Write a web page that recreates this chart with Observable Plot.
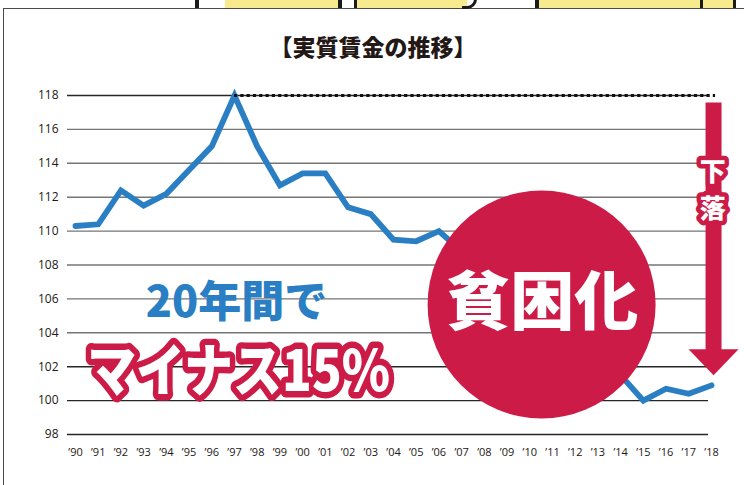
<!DOCTYPE html>
<html><head><meta charset="utf-8">
<script src="https://cdn.jsdelivr.net/npm/d3@7"></script>
<script src="https://cdn.jsdelivr.net/npm/@observablehq/plot@0.6"></script>
<style>
body{margin:0;background:#fff;}
#wrap{position:relative;width:744px;height:485px;overflow:hidden;background:#fff;}
.deco{position:absolute;pointer-events:none;}
.yb{background:#f8eb8d;}
.bk{background:#1a1a1a;}
</style></head><body>
<div id="wrap"></div>
<script>
// ---- data ----
const years = [1990,1991,1992,1993,1994,1995,1996,1997,1998,1999,2000,2001,2002,2003,2004,2005,2006,2007,2008,2009,2010,2011,2012,2013,2014,2015,2016,2017,2018];
const realWage = [110.3,110.4,112.4,111.5,112.2,113.6,115.0,118.0,115.0,112.7,113.4,113.4,111.4,111.0,109.5,109.4,110.0,108.8,107.5,105.0,106.0,105.8,104.9,104.2,101.5,100.0,100.7,100.4,100.9];
const yTicks = [98,100,102,104,106,108,110,112,114,116,118];
const xTickLabels = years.map(y => "\u2019" + String(y).slice(2));
const title = "【実質賃金の推移】";
const labelYears = "20年間で";
const labelMinus = "マイナス15%";
const labelPoverty = "貧困化";
const labelFall = "下\n落";

const data = years.map((year, i) => ({year, value: realWage[i]}));
const peak = d3.greatest(data, d => d.value);
const last = data[data.length - 1];

const blue = "#2a7fc4";
const red = "#cd1b48";
const jp = "'Noto Sans CJK JP', sans-serif";

const arrowHead = {draw(ctx){ ctx.moveTo(-25,-13); ctx.lineTo(25,-13); ctx.lineTo(0,13); ctx.closePath(); }};

const plot = Plot.plot({
  width: 744, height: 485,
  marginLeft: 67, marginRight: 36, marginTop: 95, marginBottom: 51,
  style: {background: "transparent", fontFamily: "'Open Sans', sans-serif", color: "#231815"},
  x: {type: "linear", domain: [1990, 2018], range: [75, 711], axis: null, label: null},
  y: {domain: [98, 118], range: [434, 95], axis: null, label: null},
  marks: [
    Plot.ruleY(yTicks, {stroke: d => [98,100,102,118].includes(d) ? "#262626" : "#757575", strokeWidth: 1.4}),
    Plot.axisY({ticks: yTicks, anchor: "left", label: null, tickSize: 0, tickPadding: 9, fontSize: 12, tickFormat: d => String(d)}),
    Plot.axisX({ticks: years, anchor: "bottom", label: null, tickSize: 0, tickPadding: 14, fontSize: 11, tickFormat: d => xTickLabels[years.indexOf(d)]}),
    Plot.line(data, {x: "year", y: "value", stroke: blue, strokeWidth: 5.8, strokeLinejoin: "miter", strokeMiterlimit: 10}),
    Plot.ruleY([peak], {y: "value", x1: "year", x2: () => last.year + 0.18, stroke: "#111", strokeWidth: 3.2, strokeDasharray: "3.2,3.1"}),
    Plot.dot([labelPoverty], {x: () => 2010.52, y: () => 105.67, r: 114, fill: red, stroke: "none"}),
    Plot.text([labelPoverty], {x: () => 2010.55, y: () => 105.75, text: d => d, fill: "white", fontSize: 64, fontWeight: 900, fontFamily: jp}),
    Plot.link([last], {x1: () => last.year + 0.09, x2: () => last.year + 0.09, y1: () => 117.58, y2: () => 102.8, stroke: red, strokeWidth: 16}),
    Plot.dot([last], {x: () => last.year + 0.09, y: () => 102.26, symbol: arrowHead, fill: red, stroke: "none", r: 10}),
    Plot.text([labelFall], {x: () => 2018.05, y: () => 112.57, text: d => d, fill: "white", stroke: red, strokeWidth: 9, strokeLinejoin: "round", fontSize: 26, fontWeight: 900, fontFamily: jp, lineHeight: 1.42}),
    Plot.text([labelYears], {x: () => 1997.09, y: () => 105.72, text: d => d, fill: blue, fontSize: 43, fontWeight: 900, fontFamily: jp}),
    Plot.text([labelMinus], {x: () => 1997.18, y: () => 101.62, text: d => d, fill: "white", stroke: red, strokeWidth: 11, strokeLinejoin: "round", fontSize: 49, fontWeight: 900, fontFamily: jp}),
    Plot.text([title], {x: () => 2003.1, y: () => 120.77, text: d => d, fill: "#231815", fontSize: 23, fontWeight: 900, fontFamily: jp})
  ]
});

const wrap = document.getElementById("wrap");
plot.style.position = "absolute";
plot.style.left = "0px";
plot.style.top = "0px";
wrap.appendChild(plot);

// stretch the "マイナス15%" label vertically (about its own anchor) like the reference's tall lettering
d3.select(plot).selectAll("text").filter(function(){ return this.textContent === labelMinus; }).each(function(){
  const t = this.getAttribute("transform");
  if (t) {
    this.setAttribute("transform", t + " scale(1,1.16)");
  } else {
    const x = +this.getAttribute("x") || 0, y = +this.getAttribute("y") || 0;
    this.setAttribute("transform", `translate(${x},${y}) scale(1,1.16) translate(${-x},${-y})`);
  }
});

// decorative frame (panel border and comic strip above)
const deco = [
  ["deco", "left:3px;top:8px;width:760px;height:500px;border-top:1.5px solid #4a4a4a;border-left:1.5px solid #4a4a4a;"],
  ["deco bk", "left:195px;top:0;width:4px;height:8px;"],
  ["deco yb", "left:225px;top:0;width:113px;height:8px;"],
  ["deco bk", "left:338px;top:0;width:4px;height:8px;"],
  ["deco bk", "left:354px;top:0;width:3px;height:8px;"],
  ["deco yb", "left:357px;top:0;width:110px;height:8px;"],
  ["deco", "left:462px;top:-6px;width:12px;height:12px;border-right:3px solid #1a1a1a;border-bottom:3px solid #1a1a1a;border-radius:0 0 10px 0;"],
  ["deco bk", "left:535px;top:0;width:4px;height:8px;"],
  ["deco yb", "left:539px;top:0;width:161px;height:8px;"],
  ["deco bk", "left:700px;top:0;width:3px;height:8px;"],
  ["deco yb", "left:703px;top:0;width:30px;height:8px;"],
  ["deco bk", "left:733px;top:0;width:3px;height:8px;"]
];
for (const [cls, css] of deco) {
  const d = document.createElement("div");
  d.className = cls;
  d.style.cssText = css;
  wrap.appendChild(d);
}
</script>
</body></html>
